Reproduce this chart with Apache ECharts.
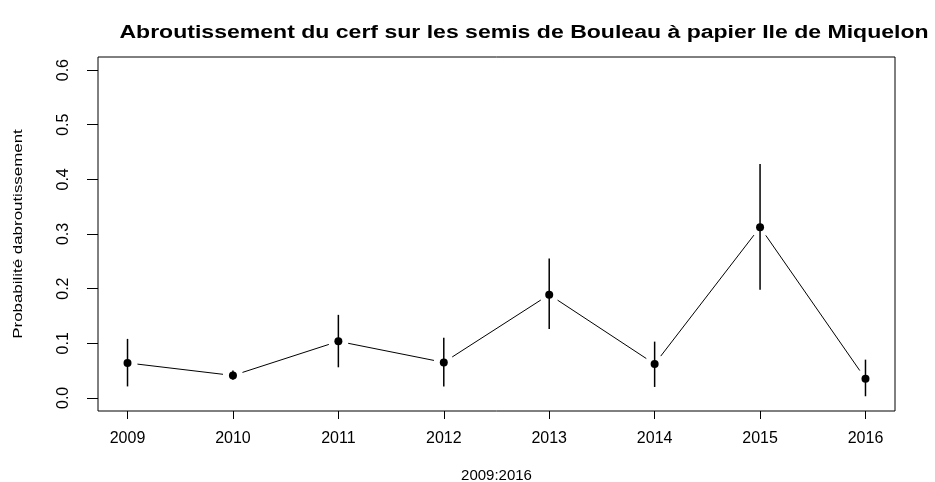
<!DOCTYPE html>
<html>
<head>
<meta charset="utf-8">
<script src="https://cdn.jsdelivr.net/npm/echarts@6/dist/echarts.min.js"></script>
<style>html,body{margin:0;padding:0;background:#fff}#c{width:935px;height:482px}</style>
</head>
<body>
<div id="c"></div>
<script>
const years = [2009, 2010, 2011, 2012, 2013, 2014, 2015, 2016];
const prob  = [0.064, 0.041, 0.1035, 0.065, 0.189, 0.062, 0.3125, 0.035];
const lower = [0.021, 0.033, 0.056, 0.021, 0.126, 0.020, 0.198, 0.003];
const upper = [0.108, 0.050, 0.152, 0.110, 0.255, 0.103, 0.428, 0.070];
const yTicks = [0, 0.1, 0.2, 0.3, 0.4, 0.5, 0.6];
const xTicks = years;
const titleText = 'Abroutissement du cerf sur les semis de Bouleau à papier Ile de Miquelon';
const xName = '2009:2016';
const yName = 'Probabilité dabroutissement';

const FONT = 'Liberation Sans, Arial, sans-serif';
const chart = echarts.init(document.getElementById('c'), null, {renderer: 'canvas'});

const segData = years.slice(0, -1).map((y, i) => [y, prob[i], years[i + 1], prob[i + 1]]);
const errData = years.map((y, i) => [y, lower[i], upper[i]]);
const ptData = years.map((y, i) => [y, prob[i]]);

const GAP = 10;
chart.setOption({
  animation: false,
  backgroundColor: '#fff',
  graphic: [{
    type: 'text', x: 524, y: 33, scaleX: 1.28,
    style: {text: titleText, font: 'bold 18px ' + FONT, fill: '#000', textAlign: 'center', textVerticalAlign: 'middle'}
  }, {
    type: 'text', x: 18, y: 234, rotation: Math.PI / 2, scaleX: 1.3,
    style: {text: yName, font: '13px ' + FONT, fill: '#000', textAlign: 'center', textVerticalAlign: 'middle'}
  }],
  grid: {left: 98, right: 40, top: 57, bottom: 71, show: true, borderColor: '#000', borderWidth: 1,
    backgroundColor: 'transparent', containLabel: false, outerBoundsMode: 'none'},
  xAxis: {
    type: 'value', min: 2008.72, max: 2016.28,
    splitLine: {show: false},
    axisLine: {show: false, onZero: false},
    axisTick: {show: true, inside: false, length: 8, customValues: xTicks, lineStyle: {color: '#000'}},
    axisLabel: {customValues: xTicks, formatter: v => String(v), fontSize: 16, fontFamily: FONT, color: '#000', margin: 20},
    name: xName, nameLocation: 'middle', nameGap: 57,
    nameTextStyle: {fontSize: 15, fontFamily: FONT, color: '#000'}
  },
  yAxis: {
    type: 'value', min: -0.024, max: 0.624,
    splitLine: {show: false},
    axisLine: {show: false, onZero: false},
    axisTick: {show: true, inside: false, length: 11, customValues: yTicks, lineStyle: {color: '#000'}},
    axisLabel: {customValues: yTicks, formatter: v => v.toFixed(1), rotate: 90, fontSize: 16, fontFamily: FONT, color: '#000', margin: 26}
  },
  series: [
    {
      type: 'custom', data: segData, encode: {x: [0, 2], y: [1, 3]},
      renderItem: (params, api) => {
        const p1 = api.coord([api.value(0), api.value(1)]);
        const p2 = api.coord([api.value(2), api.value(3)]);
        const dx = p2[0] - p1[0], dy = p2[1] - p1[1];
        const len = Math.sqrt(dx * dx + dy * dy);
        const ux = dx / len, uy = dy / len;
        return {type: 'line', shape: {x1: p1[0] + ux * GAP, y1: p1[1] + uy * GAP, x2: p2[0] - ux * GAP, y2: p2[1] - uy * GAP},
          style: {stroke: '#000', lineWidth: 1}};
      }
    },
    {
      type: 'custom', data: errData, encode: {x: 0, y: [1, 2]},
      renderItem: (params, api) => {
        const a = api.coord([api.value(0), api.value(1)]);
        const b = api.coord([api.value(0), api.value(2)]);
        return {type: 'line', shape: {x1: a[0], y1: a[1], x2: b[0], y2: b[1]}, style: {stroke: '#000', lineWidth: 1.5}};
      }
    },
    {
      type: 'scatter', data: ptData, symbol: 'circle', symbolSize: 8,
      itemStyle: {color: '#000', opacity: 1}, z: 5
    }
  ]
});
</script>
</body>
</html>
